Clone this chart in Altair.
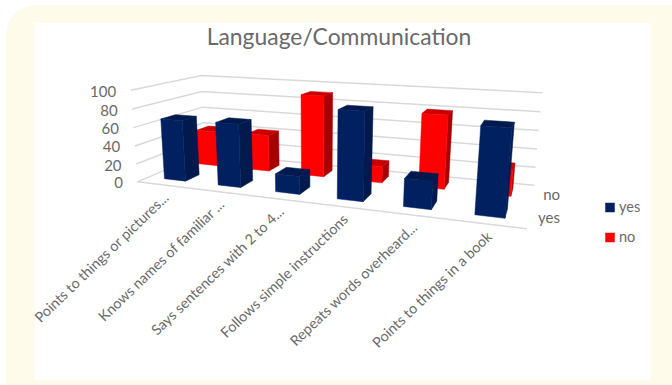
import altair as alt
import numpy as np
import pandas as pd

# Chart values
categories = [
    "Points to things or pictures...",
    "Knows names of familiar ...",
    "Says sentences with 2 to 4...",
    "Follows simple instructions",
    "Repeats words overheard...",
    "Points to things in a book",
]
yes_values = [67, 68, 19, 90, 28, 84]
no_values = [41, 42, 91, 18, 79, 28]
series = ["yes", "no"]
value_ticks = [0, 20, 40, 60, 80, 100]

W, H = 672, 385
FONT = "Lato"
TEXT = "#6A6A6A"
GRID = "#D9D9D9"
# front, side and top shades of each series
SHADES = {"yes": ("#002060", "#001A4D", "#001A4D"), "no": ("#FF0000", "#A80000", "#C80000")}

# Camera of the 3D box: cube coordinates (category, depth, value) -> canvas pixels
box_corners = np.array([
    [0, 0, 0], [0, 0, 100], [6, 0, 0], [0, 2, 0], [0, 2, 100], [6, 2, 0], [6, 2, 100],
], float)
canvas_corners = np.array([
    [138, 180], [130, 91], [527, 230], [204, 155], [202, 74.5], [534, 184], [542, 93],
], float)


def fit_camera(world, image):
    scale = np.array([1 / 6, 1 / 2, 1 / 100])
    rows = []
    for p, (u, v) in zip(world * scale, image):
        h = [*p, 1]
        rows.append([*h, 0, 0, 0, 0, *(-u * np.array(h))])
        rows.append([0, 0, 0, 0, *h, *(-v * np.array(h))])
    m = np.linalg.svd(np.array(rows))[2][-1].reshape(3, 4)
    return m @ np.diag([*scale, 1])


CAMERA = fit_camera(box_corners, canvas_corners)


def project(x, d, z):
    p = CAMERA @ np.array([x, d, z, 1.0])
    return p[0] / p[2], p[1] / p[2]


def polyline(rows, gid, pts, **extra):
    for k, pt in enumerate(pts):
        px, py = project(*pt)
        rows.append({"gid": gid, "k": k, "px": px, "py": py, **extra})


X = alt.X("px:Q", axis=None, scale=alt.Scale(domain=[0, W], range=[0, W]))
Y = alt.Y("py:Q", axis=None, scale=alt.Scale(domain=[0, H], range=[0, H]))

# Cream card with a white panel on top
card = alt.Chart(pd.DataFrame({"px": [6], "px2": [W], "py": [5], "py2": [H]})).mark_rect(
    color="#FFFBEA", cornerRadiusTopLeft=30
).encode(x=X, x2="px2:Q", y=Y, y2="py2:Q")
panel = alt.Chart(pd.DataFrame({"px": [35], "px2": [651], "py": [23], "py2": [380]})).mark_rect(
    color="#FFFFFF"
).encode(x=X, x2="px2:Q", y=Y, y2="py2:Q")

# Gridlines on the side wall and back wall, plus the front floor edge
grid_rows = []
for tick in value_ticks:
    polyline(grid_rows, f"g{tick}", [(0, 0, tick), (0, 2, tick), (6, 2, tick)])
polyline(grid_rows, "front", [(0, 0, 0), (6, 0, 0)])
grid = alt.Chart(pd.DataFrame(grid_rows)).mark_line(color=GRID, strokeWidth=1.5).encode(
    x=X, y=Y, detail="gid:N", order="k:Q"
)

# Bars as projected faces: back row first, then left to right within each row
BAR_W = 0.4
BAR_D = 0.4
face_rows = []
rows_back_first = [("no", no_values, 1.5), ("yes", yes_values, 0.5)]
for name, values, depth in rows_back_first:
    front, side, top = SHADES[name]
    for i, value in enumerate(values):
        x0, x1 = i + 0.5 - BAR_W / 2, i + 0.5 + BAR_W / 2
        d0, d1 = depth - BAR_D / 2, depth + BAR_D / 2
        gid = f"{name}{i}"
        polyline(face_rows, gid + "s", [(x1, d0, 0), (x1, d1, 0), (x1, d1, value), (x1, d0, value), (x1, d0, 0)], c=side)
        polyline(face_rows, gid + "t", [(x0, d0, value), (x1, d0, value), (x1, d1, value), (x0, d1, value), (x0, d0, value)], c=top)
        polyline(face_rows, gid + "f", [(x0, d0, 0), (x1, d0, 0), (x1, d0, value), (x0, d0, value), (x0, d0, 0)], c=front)
faces = alt.Chart(pd.DataFrame(face_rows)).mark_line(strokeWidth=0.5).encode(
    x=X, y=Y, detail="gid:N", order="k:Q",
    fill=alt.Fill("c:N", scale=None), stroke=alt.Stroke("c:N", scale=None),
)

# Value axis labels follow the lean of the side wall
vt = []
for tick in value_ticks:
    px, py = project(0, 0, tick)
    vt.append({"px": px - 14.5, "py": py + 1.5, "t": str(tick)})
value_labels = alt.Chart(pd.DataFrame(vt)).mark_text(
    align="right", baseline="middle", font=FONT, fontSize=15, color=TEXT
).encode(x=X, y=Y, text="t:N")

# Category labels, slanted under the front edge
ct = []
for i, name in enumerate(categories):
    px, py = project(i + 0.5, 0, 0)
    ct.append({"px": px + 3, "py": py + 11, "t": name})
category_labels = alt.Chart(pd.DataFrame(ct)).mark_text(
    align="right", baseline="middle", font=FONT, fontSize=14.4, color=TEXT, angle=316
).encode(x=X, y=Y, text="t:N")

# Depth axis labels
dt = []
for name, depth, nudge in [("yes", 0.5, 2), ("no", 1.5, 0)]:
    px, py = project(6, depth, 0)
    dt.append({"px": 560, "py": py + nudge, "t": name})
depth_labels = alt.Chart(pd.DataFrame(dt)).mark_text(
    align="right", baseline="middle", font=FONT, fontSize=15, color=TEXT
).encode(x=X, y=Y, text="t:N")

# Title
title = alt.Chart(pd.DataFrame({"px": [339], "py": [37.5], "t": ["Language/Communication"]})).mark_text(
    font=FONT, fontSize=22.9, color=TEXT, baseline="middle"
).encode(x=X, y=Y, text="t:N")

# Legend
legend_df = pd.DataFrame({
    "t": series, "px": [610, 610], "py": [207.5, 237.5], "c": [SHADES[s][0] for s in series], "tx": [619, 619],
})
legend_keys = alt.Chart(legend_df).mark_square(size=90, opacity=1).encode(
    x=X, y=Y, color=alt.Color("c:N", scale=None)
)
legend_text = alt.Chart(legend_df).mark_text(
    align="left", baseline="middle", font=FONT, fontSize=14.5, color=TEXT
).encode(x=alt.X("tx:Q", axis=None, scale=alt.Scale(domain=[0, W], range=[0, W])), y=Y, text="t:N")

chart = alt.layer(
    card, panel, grid, faces, value_labels, category_labels, depth_labels, title, legend_keys, legend_text
).properties(width=W, height=H, padding=0, autosize="none").configure_view(stroke=None)

chart.save("out.html", embed_options={"renderer": "svg", "actions": False})
